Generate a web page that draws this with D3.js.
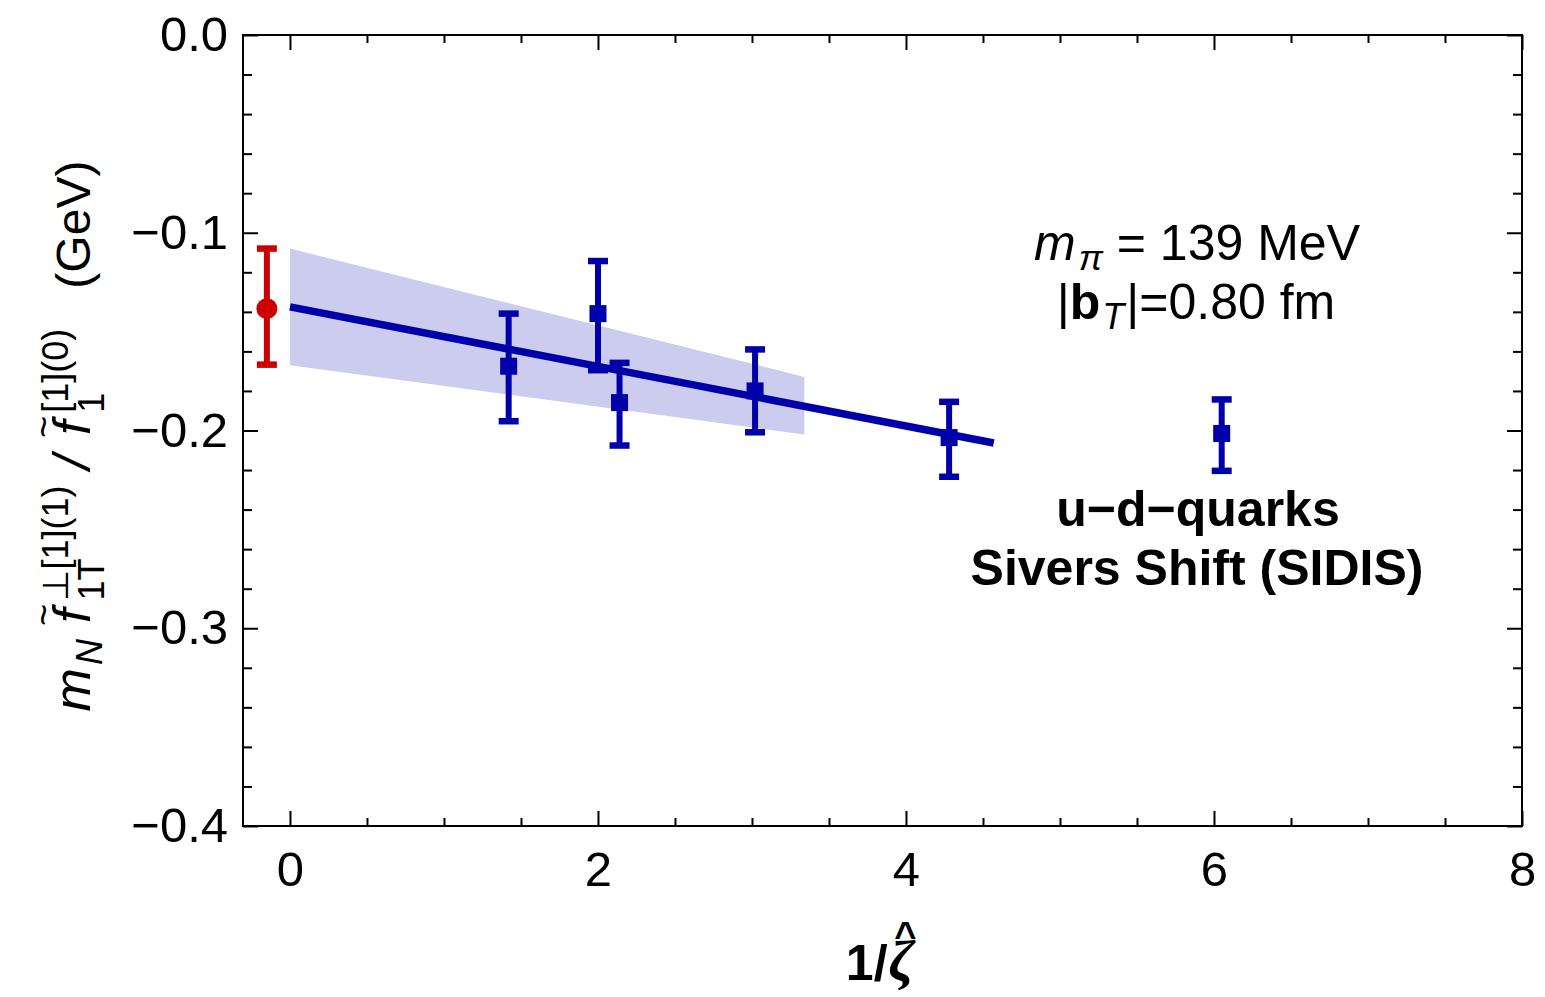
<!DOCTYPE html>
<html>
<head>
<meta charset="utf-8">
<script src="https://cdn.jsdelivr.net/npm/d3@7"></script>
<style>
  html, body { margin: 0; padding: 0; background: #fff; }
  svg text { font-family: "Liberation Sans", Arial, Helvetica, sans-serif; fill: #000; }
</style>
</head>
<body>
<script>
// lattice points (blue squares)
var latX = [1.42, 2.0, 2.14, 3.02, 4.28, 6.05];
var latY = [-0.1675, -0.1409, -0.1859, -0.1800, -0.2036, -0.2015];
var latLo = [-0.1953, -0.1695, -0.2076, -0.2009, -0.2234, -0.2204];
var latHi = [-0.1409, -0.1143, -0.1658, -0.1590, -0.1855, -0.1843];

// extrapolated value at 1/zeta = 0 (red point, drawn slightly left of 0)
var extX = [-0.15];
var extY = [-0.1384];
var extLo = [-0.1667];
var extHi = [-0.1080];

// linear fit and its error band
var fitX = [0, 4.57];
var fitY = [-0.1375, -0.2063];
var bandX = [0, 3.34];
var bandLo = [-0.167, -0.202];
var bandHi = [-0.108, -0.1729];

var xMajor = [0, 2, 4, 6, 8];
var xMinor = [0.5, 1, 1.5, 2.5, 3, 3.5, 4.5, 5, 5.5, 6.5, 7, 7.5];
var yMajor = [-0.4, -0.3, -0.2, -0.1, 0.0];
var yMinor = d3.range(-0.38, 0, 0.02).filter(function (v) {
    return Math.abs(v * 10 - Math.round(v * 10)) > 1e-6;
});

var width = 1545, height = 997;
var pLeft = 243, pRight = 1522, pTop = 35, pBottom = 826;

var blue = "#0000aa", red = "#cc0000", bandColor = "#ccccee";

var x = d3.scaleLinear().domain([-0.305, 8]).range([pLeft, pRight]);
var y = d3.scaleLinear().domain([-0.4, 0]).range([pBottom, pTop]);

var svg = d3.select("body").append("svg")
    .attr("width", width)
    .attr("height", height);

// band
svg.append("path")
    .datum(d3.range(bandX.length))
    .attr("fill", bandColor)
    .attr("d", d3.area()
        .x(function (i) { return x(bandX[i]); })
        .y0(function (i) { return y(bandLo[i]); })
        .y1(function (i) { return y(bandHi[i]); }));

// fit line
svg.append("path")
    .datum(d3.range(fitX.length))
    .attr("fill", "none")
    .attr("stroke", blue)
    .attr("stroke-width", 7.5)
    .attr("d", d3.line()
        .x(function (i) { return x(fitX[i]); })
        .y(function (i) { return y(fitY[i]); }));

function errorBars(xs, ys, lo, hi, col, marker) {
    var g = svg.append("g");
    var pts = g.selectAll("g").data(d3.range(xs.length)).enter().append("g");
    pts.append("line")
        .attr("x1", function (i) { return x(xs[i]); })
        .attr("x2", function (i) { return x(xs[i]); })
        .attr("y1", function (i) { return y(lo[i]); })
        .attr("y2", function (i) { return y(hi[i]); })
        .attr("stroke", col).attr("stroke-width", 6);
    [lo, hi].forEach(function (arr) {
        pts.append("line")
            .attr("x1", function (i) { return x(xs[i]) - 10; })
            .attr("x2", function (i) { return x(xs[i]) + 10; })
            .attr("y1", function (i) { return y(arr[i]); })
            .attr("y2", function (i) { return y(arr[i]); })
            .attr("stroke", col).attr("stroke-width", 6.5);
    });
    if (marker == "circle") {
        pts.append("circle")
            .attr("cx", function (i) { return x(xs[i]); })
            .attr("cy", function (i) { return y(ys[i]); })
            .attr("r", 10.5)
            .attr("fill", col);
    } else {
        pts.append("rect")
            .attr("x", function (i) { return x(xs[i]) - 8.5; })
            .attr("y", function (i) { return y(ys[i]) - 8.5; })
            .attr("width", 17).attr("height", 17)
            .attr("fill", col);
    }
}

errorBars(extX, extY, extLo, extHi, red, "circle");
errorBars(latX, latY, latLo, latHi, blue, "square");

// axes: ticks point inwards on all four sides
function styleAxis(g) {
    g.select(".domain").remove();
    g.selectAll(".tick line").attr("stroke", "#000").attr("stroke-width", 2);
    g.selectAll(".tick text")
        .attr("font-size", 49)
        .attr("font-family", "Liberation Sans, Arial, sans-serif")
        .attr("fill", "#000");
}

svg.append("g").attr("transform", "translate(0," + pBottom + ")")
    .call(d3.axisBottom(x).tickValues(xMajor).tickSize(-15).tickPadding(25).tickFormat(d3.format("d")))
    .call(styleAxis);
svg.append("g").attr("transform", "translate(0," + pBottom + ")")
    .call(d3.axisBottom(x).tickValues(xMinor).tickSize(-8).tickFormat(""))
    .call(styleAxis);
svg.append("g").attr("transform", "translate(0," + pTop + ")")
    .call(d3.axisTop(x).tickValues(xMajor).tickSize(-15).tickFormat(""))
    .call(styleAxis);
svg.append("g").attr("transform", "translate(0," + pTop + ")")
    .call(d3.axisTop(x).tickValues(xMinor).tickSize(-8).tickFormat(""))
    .call(styleAxis);

svg.append("g").attr("transform", "translate(" + pLeft + ",0)")
    .call(d3.axisLeft(y).tickValues(yMajor).tickSize(-15).tickPadding(15).tickFormat(d3.format(".1f")))
    .call(styleAxis);
svg.append("g").attr("transform", "translate(" + pLeft + ",0)")
    .call(d3.axisLeft(y).tickValues(yMinor).tickSize(-9).tickFormat(""))
    .call(styleAxis);
svg.append("g").attr("transform", "translate(" + pRight + ",0)")
    .call(d3.axisRight(y).tickValues(yMajor).tickSize(-15).tickFormat(""))
    .call(styleAxis);
svg.append("g").attr("transform", "translate(" + pRight + ",0)")
    .call(d3.axisRight(y).tickValues(yMinor).tickSize(-9).tickFormat(""))
    .call(styleAxis);

// frame
svg.append("rect")
    .attr("x", pLeft).attr("y", pTop)
    .attr("width", pRight - pLeft).attr("height", pBottom - pTop)
    .attr("fill", "none").attr("stroke", "#000").attr("stroke-width", 2);

// lays out pieces of text one after another; "stack" pieces start where the
// previous piece started (sub under super), "over" pieces sit centered above it
function richText(pieces, tx, ty, rot) {
    var g = svg.append("g");
    var cx = 0, prevStart = 0, prevW = 0;
    pieces.forEach(function (p) {
        var t = g.append("text")
            .attr("font-size", p.size || 50)
            .attr("font-style", p.italic ? "italic" : null)
            .attr("font-weight", p.bold ? "bold" : null)
            .attr("y", p.shift || 0)
            .text(p.t);
        if (p.serif) t.style("font-family", "Liberation Serif, serif");
        if (p.over) {
            t.attr("text-anchor", "middle")
                .attr("x", prevStart + prevW / 2 + (p.dx || 0));
            return;
        }
        var start = p.stack ? prevStart : cx;
        start += p.dx || 0;
        t.attr("x", start);
        var w = t.node().getComputedTextLength();
        cx = Math.max(cx, start + w);
        prevStart = start;
        prevW = w;
    });
    g.attr("transform", "translate(" + tx + "," + ty + ") rotate(" + (rot || 0) + ") translate(" + (-cx / 2) + ",0)");
    return g;
}

// y axis title
richText([
    { t: "m", italic: true, size: 52 },
    { t: "N", italic: true, size: 36, shift: 12, dx: 3 },
    { t: "f", italic: true, size: 52, dx: 16 },
    { t: "~", over: true, size: 38, shift: -33, dx: 1 },
    { t: "\u22a5[1](1)", size: 36, shift: -22, dx: 8 },
    { t: "1T", size: 36, shift: 14, stack: true },
    { t: "/", italic: true, size: 52, dx: 16 },
    { t: "f", italic: true, size: 52, dx: 20 },
    { t: "~", over: true, size: 38, shift: -33, dx: 1 },
    { t: "[1](0)", size: 36, shift: -22, dx: 8 },
    { t: "1", size: 36, shift: 14, stack: true },
    { t: "(GeV)", size: 48, dx: 40 }
], 90, 436, -90);

// x axis title
richText([
    { t: "1/", bold: true, size: 50 },
    { t: "\u03b6", italic: true, bold: true, serif: true, size: 58, dx: 1 },
    { t: "^", over: true, size: 38, shift: -31, dx: 4, bold: true }
], 880, 980, 0);

// annotations
richText([
    { t: "m", italic: true, size: 50 },
    { t: "\u03c0", italic: true, size: 36, shift: 10, dx: 3 },
    { t: "= 139 MeV", size: 50, dx: 14 }
], 1197, 260, 0);

richText([
    { t: "|", size: 50 },
    { t: "b", bold: true, size: 50 },
    { t: "T", italic: true, size: 36, shift: 10, dx: 2 },
    { t: "|=0.80 fm", size: 50, dx: 2 }
], 1196, 319, 0);

richText([{ t: "u\u2212d\u2212quarks", bold: true, size: 50 }], 1198, 526, 0);
richText([{ t: "Sivers Shift (SIDIS)", bold: true, size: 50 }], 1197, 585, 0);
</script>
</body>
</html>
